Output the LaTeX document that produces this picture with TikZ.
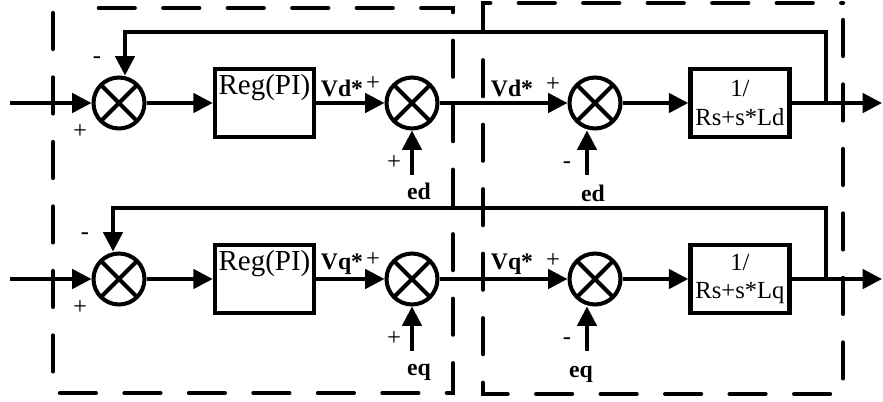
\documentclass[tikz,border=0pt]{standalone}
\usepackage{fontspec}
\setmainfont{Liberation Serif}
\usetikzlibrary{arrows.meta}

\tikzset{
  sumnode/.style={circle, draw, line width=2.3pt, minimum size=1.02cm, inner sep=0pt,
    path picture={\draw[line width=2.3pt] (path picture bounding box.north west) -- (path picture bounding box.south east)
      (path picture bounding box.north east) -- (path picture bounding box.south west);}},
  blockbox/.style={draw, line width=2.6pt, minimum width=1.98cm, minimum height=1.36cm, inner sep=0pt},
  regtext/.style={font=\fontsize{16.5}{18}\selectfont},
  planttext/.style={font=\fontsize{14}{16}\selectfont, align=center},
  sig/.style={line width=2pt, -{Triangle[length=11pt,width=11pt]}},
  wire/.style={line width=2pt},
  region/.style={line width=2.4pt, line cap=round, dash pattern=on 0.72cm off 0.57cm},
  sign/.style={font=\fontsize{14}{14}\selectfont, inner sep=0pt},
  varlabel/.style={font=\fontsize{13.5}{13.5}\selectfont\bfseries, inner sep=0pt}
}

\begin{document}
\begin{tikzpicture}[x=0.02cm, y=-0.02cm]
    \useasboundingbox (0,0) rectangle (883,402);

    % Dashed regions
    \draw[region] (53,13) -- (53,393) -- (453,393) -- (453,8) -- (72,8);
    \draw[region] (843,20) -- (843,394) -- (483,394) -- (483,3) -- (843,3);

    % One row for each axis: d on top, q below
    \foreach \r/\y/\fx/\ex in {d/103/125/593, q/279/113/581} {
        \coordinate (in\r) at (10,\y);
        \node[sumnode] (s1\r) at (119,\y) {};
        \node[blockbox, label={[name=regt\r, regtext, anchor=north, inner sep=0pt, yshift=-4pt]north:Reg(PI)}] (reg\r) at (264.5,\y) {};
        \node[sumnode] (s2\r) at (412,\y) {};
        \node[sumnode] (s3\r) at (595,\y) {};
        \node[blockbox, planttext] (G\r) at (740,\y) {1/\\Rs+s*L\r};
        \coordinate (out\r) at (882,\y);
        \coordinate (br\r) at (826,\y);
        \coordinate (fb\r) at (\fx,\y-71);
        \coordinate (ea\r) at (412,\y+72);
        \coordinate (eb\r) at (587,\y+72);

        % Signal path
        \draw[sig] (in\r) -- (s1\r);
        \draw[sig] (s1\r) -- (reg\r);
        \draw[sig] (reg\r) -- (s2\r);
        \draw[sig] (s2\r) -- (s3\r);
        \draw[sig] (s3\r) -- (G\r);
        \draw[sig] (G\r) -- (out\r);

        % Feedback and back-emf inputs
        \draw[sig] (br\r) |- (fb\r) -- (fb\r |- s1\r.north);
        \draw[sig] (ea\r) -- (s2\r);
        \draw[sig] (eb\r) -- (eb\r |- s3\r.south);

        % Signs and labels
        \node[sign] (m1\r) at (\fx-28,\y-43) {-};
        \node[sign] (p1\r) at (80,\y+29) {+};
        \node[varlabel] (v1\r) at (342,\y-15) {V\r*};
        \node[sign] (p2\r) at (373,\y-19) {+};
        \node[sign] (p3\r) at (394,\y+60) {+};
        \node[varlabel, anchor=base] (e1\r) at (419,\y+96) {e\r};
        \node[varlabel] (v2\r) at (512,\y-15) {V\r*};
        \node[sign] (p4\r) at (553,\y-18) {+};
        \node[sign] (m3\r) at (567,\y+62) {-};
        \node[varlabel, anchor=base] (e2\r) at (\ex,\y+98) {e\r};
    }
\end{tikzpicture}
\end{document}
